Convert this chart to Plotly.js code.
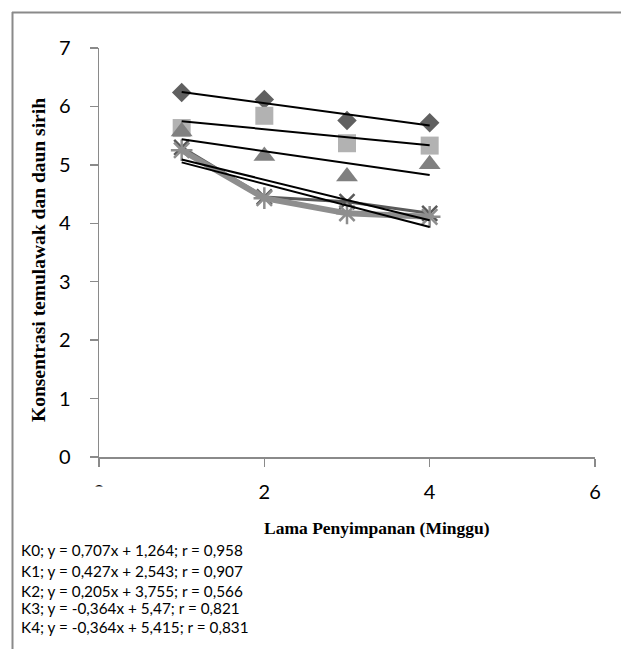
<!DOCTYPE html>
<html>
<head>
<meta charset="utf-8">
<script src="https://cdn.plot.ly/plotly-3.0.1.min.js"></script>
<style>
html,body{margin:0;padding:0;background:#fff;}
#chart{width:622px;height:649px;}
</style>
</head>
<body>
<div id="chart"></div>
<script>
// ---- data ----
var weeks = [1, 2, 3, 4];
var K0 = [6.24, 6.12, 5.76, 5.72];
var K1 = [5.63, 5.84, 5.37, 5.33];
var K2 = [5.57, 5.15, 4.80, 5.01];
var K3 = [5.30, 4.45, 4.37, 4.17];
var K4 = [5.25, 4.43, 4.17, 4.11];
var seriesNames = ["K0", "K1", "K2", "K3", "K4"];
var equationLabels = [
  "K0; y = 0,707x + 1,264; r = 0,958",
  "K1; y = 0,427x + 2,543; r = 0,907",
  "K2; y = 0,205x + 3,755; r = 0,566",
  "K3; y = -0,364x + 5,47; r = 0,821",
  "K4; y = -0,364x + 5,415; r = 0,831"
];
var xTickVals = [0, 2, 4, 6];
var yTickVals = [0, 1, 2, 3, 4, 5, 6, 7];
var xTitle = "Lama Penyimpanan (Minggu)";
var yTitle = "Konsentrasi temulawak dan daun sirih";

// ---- layout geometry ----
var W = 622, H = 649;
var M = {l: 99, r: 27, t: 48, b: 192};
var pw = W - M.l - M.r, ph = H - M.t - M.b;
function px(x){ return (x - M.l) / pw; }
function py(y){ return (H - M.b - y) / ph; }

function linfit(xs, ys){
  var n = xs.length, sx=0, sy=0, sxx=0, sxy=0;
  for (var i=0;i<n;i++){ sx+=xs[i]; sy+=ys[i]; sxx+=xs[i]*xs[i]; sxy+=xs[i]*ys[i]; }
  var m = (n*sxy - sx*sy) / (n*sxx - sx*sx);
  var b = (sy - m*sx) / n;
  return {m:m, b:b};
}

var allSeries = [K0, K1, K2, K3, K4];
var styles = [
  {mode:'markers', marker:{symbol:'diamond', size:15, color:'#606060'}},
  {mode:'markers', marker:{symbol:'square', size:18, color:'#b2b2b2'}},
  {mode:'markers', marker:{symbol:'triangle-up', size:19, color:'#808080'}},
  {mode:'lines+markers', line:{color:'#5a5a5a', width:3},
   marker:{symbol:'x-thin-open', size:15, line:{color:'#5a5a5a', width:2.5}}},
  {mode:'lines+markers', line:{color:'#8e8e8e', width:6},
   marker:{symbol:'asterisk-open', size:18, line:{color:'#8e8e8e', width:2.5}}}
];

var traces = [];
for (var s=0; s<allSeries.length; s++){
  var t = {x: weeks, y: allSeries[s], type:'scatter', name: seriesNames[s], showlegend:false};
  for (var k in styles[s]) t[k] = styles[s][k];
  traces.push(t);
}
// trendlines (least-squares fits of each series)
var xmin = Math.min.apply(null, weeks), xmax = Math.max.apply(null, weeks);
for (var s2=0; s2<allSeries.length; s2++){
  var f = linfit(weeks, allSeries[s2]);
  traces.push({
    x:[xmin, xmax], y:[f.m*xmin+f.b, f.m*xmax+f.b],
    type:'scatter', mode:'lines', showlegend:false,
    line:{color:'#000000', width:2}
  });
}

var eqY = [550, 570.5, 590.5, 608, 627];
var annotations = [];
for (var i=0;i<equationLabels.length;i++){
  annotations.push({
    text: equationLabels[i], xref:'paper', yref:'paper',
    x: px(19), y: py(eqY[i]), xanchor:'left', yanchor:'middle',
    showarrow:false, font:{family:'Lato, "Liberation Sans", sans-serif', size:15.3, color:'#000'}
  });
}
annotations.push({
  text: xTitle, xref:'paper', yref:'paper', x: px(376.5), y: py(528),
  xanchor:'center', yanchor:'middle', showarrow:false,
  font:{family:'"Liberation Serif", "Times New Roman", serif', size:17.5, color:'#000', weight:'bold'}
});
annotations.push({
  text: yTitle, xref:'paper', yref:'paper', x: px(38), y: py(260),
  xanchor:'center', yanchor:'middle', textangle:-90, showarrow:false,
  font:{family:'"Liberation Serif", "Times New Roman", serif', size:19.5, color:'#000', weight:'bold'}
});

var shapes = [
  // chart frame (top and left edges)
  {type:'line', xref:'paper', yref:'paper', x0:px(12), x1:px(621), y0:py(12.5), y1:py(12.5),
   line:{color:'#8a8a8a', width:2}},
  {type:'line', xref:'paper', yref:'paper', x0:px(12.5), x1:px(12.5), y0:py(12), y1:py(649),
   line:{color:'#8a8a8a', width:2}},
  // white patch clipping the x "0" tick label as in the reference
  {type:'rect', xref:'paper', yref:'paper', x0:px(85), x1:px(115), y0:py(486.5), y1:py(506),
   fillcolor:'#ffffff', line:{width:0}, layer:'above'}
];

var layout = {
  width: W, height: H,
  margin: M,
  paper_bgcolor:'#ffffff', plot_bgcolor:'#ffffff',
  showlegend:false,
  xaxis:{
    range:[0,6], tickvals:xTickVals, ticktext:xTickVals.map(String),
    showgrid:false, zeroline:false, showline:true, linecolor:'#8a8a8a', linewidth:1.5,
    ticks:'outside', ticklen:8, tickcolor:'#8a8a8a', tickwidth:1.5,
    ticklabelstandoff:8,
    tickfont:{family:'Lato, "Liberation Sans", sans-serif', size:20, color:'#000'}
  },
  yaxis:{
    range:[0,7], tickvals:yTickVals, ticktext:yTickVals.map(String),
    showgrid:false, zeroline:false, showline:true, linecolor:'#8a8a8a', linewidth:1.5,
    ticks:'outside', ticklen:8, tickcolor:'#8a8a8a', tickwidth:1.5,
    ticklabelstandoff:15,
    tickfont:{family:'Lato, "Liberation Sans", sans-serif', size:20, color:'#000'}
  },
  annotations: annotations,
  shapes: shapes
};

Plotly.newPlot('chart', traces, layout, {staticPlot:true, displayModeBar:false});
</script>
</body>
</html>
